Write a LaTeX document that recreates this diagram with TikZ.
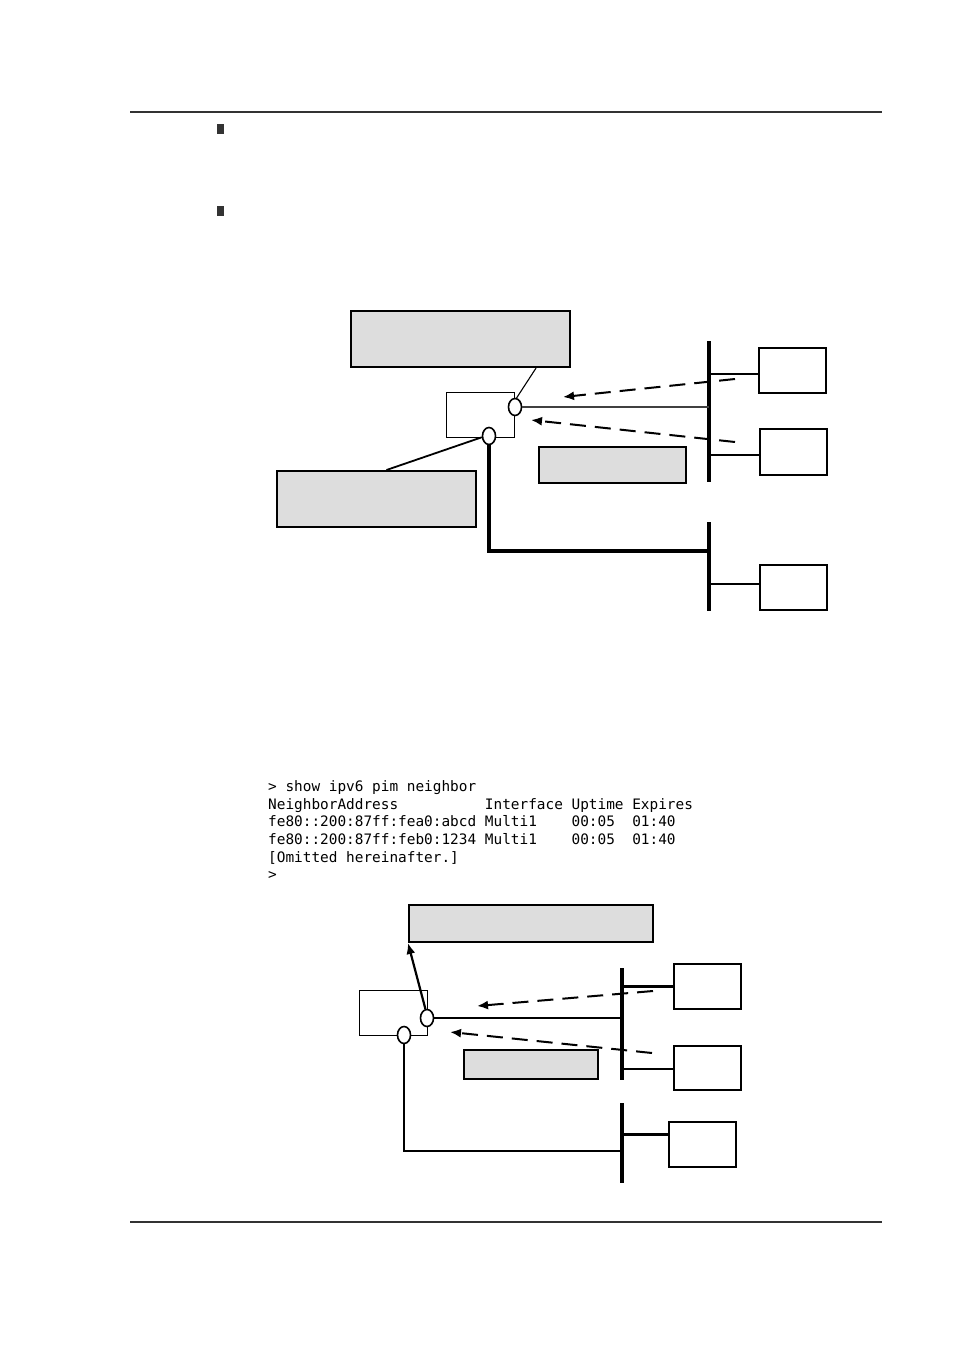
\documentclass[tikz,border=0pt]{standalone}
\usepackage{fontspec}
\newfontfamily\monofont{DejaVu Sans Mono}
\usetikzlibrary{shapes.geometric,arrows.meta}
\definecolor{boxgray}{HTML}{DDDDDD}
\definecolor{rulegray}{HTML}{333333}
\tikzset{
  graybox/.style={draw, fill=boxgray, line width=2, anchor=north west, inner sep=0},
  hostbox/.style={draw, line width=2.2, anchor=north west, inner sep=0},
  routerbox/.style={draw, line width=1.4, anchor=north west, inner sep=0},
  iface/.style={draw, ellipse, fill=white, line width=1.6, minimum width=13, minimum height=17, inner sep=0},
  bus/.style={line width=3.2},
  hostlink/.style={line width=2.4},
  dasharrow/.style={line width=2, dash pattern=on 16 off 9, -{Latex[length=11,width=9]}},
  cli/.style={font=\monofont\fontsize{14.4}{17}\selectfont, anchor=base west, inner sep=0},
}
\begin{document}
\begin{tikzpicture}[x=1pt,y=-1pt]
\useasboundingbox (0,0) rectangle (954,1351);
% page rules and bullets
\draw[rulegray, line width=1.6] (130,112) -- (882,112);
\draw[rulegray, line width=1.6] (130,1222) -- (882,1222);
\fill[rulegray] (217,124) rectangle (224,134);
\fill[rulegray] (217,206) rectangle (224,216);

% ---------- Diagram 1 ----------
\node[graybox, minimum width=219, minimum height=56] (c1) at (350,310) {};
\node[graybox, minimum width=199, minimum height=56] (c2) at (276,470) {};
\node[graybox, minimum width=147, minimum height=36] (c3) at (538,446) {};
\node[routerbox, minimum width=68, minimum height=45] (r1) at (446,392) {};
\node[hostbox, minimum width=67, minimum height=45] (h1) at (758,347) {};
\node[hostbox, minimum width=67, minimum height=46] (h2) at (759,428) {};
\node[hostbox, minimum width=67, minimum height=45] (h3) at (759,564) {};
\coordinate (b1t) at (709,341);
\coordinate (b1b) at (709,482);
\coordinate (b2t) at (709,522);
\coordinate (b2b) at (709,611);
\coordinate (j2) at (709,551);
\draw[bus] (b1t) -- (b1b);
\draw[bus] (b2t) -- (b2b);
\draw[hostlink] (h1.186) -- (h1.186 -| b1t);
\draw[hostlink] (h2.185) -- (h2.185 -| b1t);
\draw[hostlink] (h3.174) -- (h3.174 -| b2t);
\node[iface] (i1) at (515,407) {};
\node[iface] (i2) at (489,436) {};
\draw[line width=1.1] (i1.80) -- (c1.-21.7);
\draw[line width=1.8] (i2.190) -- (c2.71);
\draw[line width=1.5, black!75] (i1.east) -- (i1.east -| b1t);
\draw[line width=3.2] (i2.south) |- (j2);
\coordinate (d1s) at (735,379);
\coordinate (d1e) at (563,397);
\coordinate (d2s) at (735,442);
\coordinate (d2e) at (531,420);
\draw[dasharrow] (d1s) -- (d1e);
\draw[dasharrow] (d2s) -- (d2e);

% ---------- CLI text ----------
\node[cli] (t1) at (268,791) {>~show~ipv6~pim~neighbor};
\node[cli] (t2) at (268,809) {NeighborAddress~~~~~~~~~~Interface~Uptime~Expires};
\node[cli] (t3) at (268,826) {fe80::200:87ff:fea0:abcd~Multi1~~~~00:05~~01:40};
\node[cli] (t4) at (268,844) {fe80::200:87ff:feb0:1234~Multi1~~~~00:05~~01:40};
\node[cli] (t5) at (268,862) {[Omitted~hereinafter.]};
\node[cli] (t6) at (268,879) {>};

% ---------- Diagram 2 ----------
\node[graybox, minimum width=244, minimum height=37] (c4) at (408,904) {};
\node[graybox, minimum width=134, minimum height=29] (c5) at (463,1049) {};
\node[routerbox, minimum width=68, minimum height=45] (r2) at (359,990) {};
\node[hostbox, minimum width=67, minimum height=45] (hA) at (673,963) {};
\node[hostbox, minimum width=67, minimum height=44] (hB) at (673,1045) {};
\node[hostbox, minimum width=67, minimum height=45] (hC) at (668,1121) {};
\coordinate (b3t) at (622,968);
\coordinate (b3b) at (622,1080);
\coordinate (b4t) at (622,1103);
\coordinate (b4b) at (622,1183);
\coordinate (j4) at (622,1151);
\draw[bus] (b3t) -- (b3b);
\draw[bus] (b4t) -- (b4b);
\draw[hostlink] (hA.180) -- (hA.180 -| b3t);
\draw[hostlink] (hB.181) -- (hB.181 -| b3t);
\draw[hostlink] (hC.164) -- (hC.164 -| b4t);
\node[iface] (i3) at (427,1018) {};
\node[iface] (i4) at (404,1035) {};
\draw[line width=2.2, -{Latex[length=11,width=9]}] (i3.100) -- (c4.189.2);
\draw[line width=2.4] (i3.east) -- (i3.east -| b3t);
\draw[line width=1.9] (i4.south) |- (j4);
\coordinate (d3s) at (653,991);
\coordinate (d3e) at (477,1006);
\coordinate (d4s) at (652,1053);
\coordinate (d4e) at (450,1032);
\draw[dasharrow] (d3s) -- (d3e);
\draw[dasharrow] (d4s) -- (d4e);
\end{tikzpicture}
\end{document}
